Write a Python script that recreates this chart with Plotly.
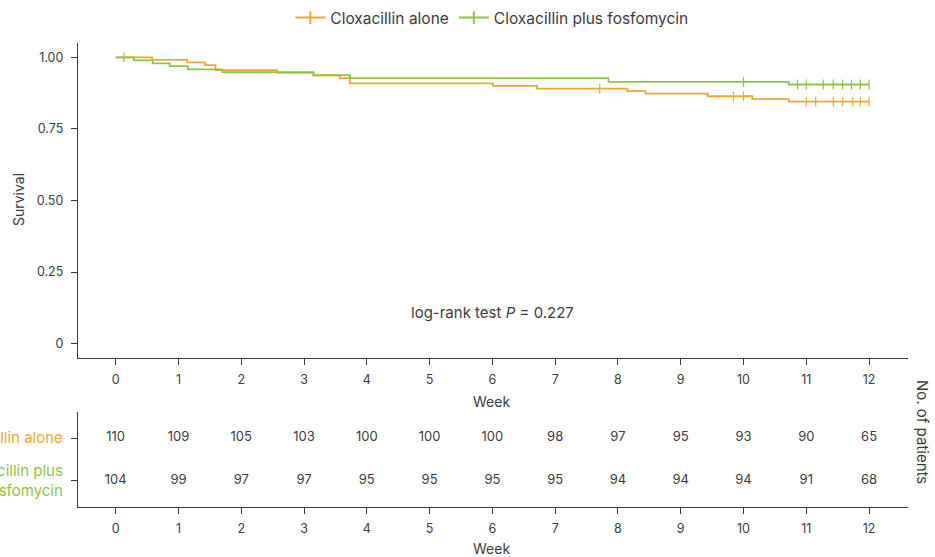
import plotly.graph_objects as go

# ---------------- data ----------------
weeks = list(range(0, 13))

alone_name = "Cloxacillin alone"
plus_name = "Cloxacillin plus fosfomycin"

# Kaplan-Meier steps (time in weeks, survival after step)
alone_t = [0, 0.58, 1.14, 1.42, 1.59, 2.57, 3.15, 3.57, 3.73, 6.01, 6.71, 8.15, 8.44, 9.43, 10.14, 10.72, 12.0]
alone_s = [1.0, 0.991, 0.982, 0.973, 0.955, 0.946, 0.936, 0.927, 0.909, 0.900, 0.891, 0.882, 0.873, 0.864, 0.854, 0.845, 0.845]
alone_cens = [7.71, 9.84, 10.0, 11.0, 11.15, 11.43, 11.58, 11.74, 11.86, 12.0]

plus_t = [0, 0.29, 0.59, 0.86, 1.15, 1.70, 3.15, 3.73, 7.85, 10.72, 12.0]
plus_s = [1.0, 0.989, 0.979, 0.969, 0.958, 0.948, 0.938, 0.927, 0.914, 0.905, 0.905]
plus_cens = [0.13, 10.0, 10.86, 11.0, 11.27, 11.43, 11.58, 11.72, 11.86, 12.0]

# number at risk
alone_risk = [110, 109, 105, 103, 100, 100, 100, 98, 97, 95, 93, 90, 65]
plus_risk = [104, 99, 97, 97, 95, 95, 95, 95, 94, 94, 94, 91, 68]

y_ticks = [0, 0.25, 0.5, 0.75, 1.0]
y_ticktext = ["0", "0.25", "0.50", "0.75", "1.00"]

ORANGE = "#F3A531"
GREEN = "#8DC641"
AX = "#3a3a3a"
TXT = "#3c3c3c"
FONT = "Inter"


def step_at(ts, ss, t):
    v = ss[0]
    for ti, si in zip(ts, ss):
        if ti <= t:
            v = si
    return v


fig = go.Figure()

for name, ts, ss, cens, col in [
    (alone_name, alone_t, alone_s, alone_cens, ORANGE),
    (plus_name, plus_t, plus_s, plus_cens, GREEN),
]:
    fig.add_trace(go.Scatter(x=ts, y=ss, mode="lines", line=dict(color=col, width=1.8, shape="hv"),
                             showlegend=False, xaxis="x", yaxis="y", hoverinfo="skip"))
    fig.add_trace(go.Scatter(x=cens, y=[step_at(ts, ss, c) for c in cens], mode="markers",
                             marker=dict(symbol="line-ns-open", size=7, color=col, line=dict(color=col, width=1.2)),
                             showlegend=False, xaxis="x", yaxis="y", hoverinfo="skip"))
    fig.add_trace(go.Scatter(x=[None], y=[None], mode="lines+markers", name=name,
                             line=dict(color=col, width=2),
                             marker=dict(symbol="line-ns-open", size=9, color=col, line=dict(color=col, width=2)),
                             xaxis="x", yaxis="y"))

# risk table
fig.add_trace(go.Scatter(x=weeks, y=[1] * len(weeks), mode="text", text=[str(v) for v in alone_risk],
                         textfont=dict(family=FONT, size=13, color=TXT), showlegend=False,
                         xaxis="x2", yaxis="y2", hoverinfo="skip"))
fig.add_trace(go.Scatter(x=weeks, y=[0] * len(weeks), mode="text", text=[str(v) for v in plus_risk],
                         textfont=dict(family=FONT, size=13, color=TXT), showlegend=False,
                         xaxis="x2", yaxis="y2", hoverinfo="skip"))

W, H = 935, 557
xdom = [78 / W, 908 / W]
axcommon = dict(showline=True, linecolor=AX, linewidth=1.3, ticks="outside", ticklen=6, tickwidth=1.3,
                tickcolor=AX, showgrid=False, zeroline=False, automargin=False,
                tickfont=dict(family=FONT, size=12.5, color=TXT))
axnofont = {k: v for k, v in axcommon.items() if k != "tickfont"}

row_labels = [
    f'<span style="color:{ORANGE}">Cloxacillin alone</span>',
    f'<span style="color:{GREEN}">Cloxacillin plus</span><br><span style="color:{GREEN}">fosfomycin</span>',
]

fig.update_layout(
    width=W, height=H,
    margin=dict(l=0, r=0, t=0, b=0, autoexpand=False),
    paper_bgcolor="white", plot_bgcolor="white",
    font=dict(family=FONT, color=TXT),
    xaxis=dict(domain=xdom, range=[-0.6, 12.62], anchor="y", tickvals=weeks, ticklabelstandoff=4, **axcommon),
    yaxis=dict(domain=[1 - 358 / H, 1 - 43 / H], range=[-0.05, 1.05], anchor="x",
               tickvals=y_ticks, ticktext=y_ticktext, ticklabelstandoff=5, **axcommon),
    xaxis2=dict(domain=xdom, range=[-0.6, 12.62], anchor="y2", tickvals=weeks, ticklabelstandoff=4, **axcommon),
    yaxis2=dict(domain=[1 - 507 / H, 1 - 412 / H], range=[-0.605, 1.605], anchor="x2",
                tickvals=[1, 0], ticktext=row_labels,
                ticklabelstandoff=5, **axnofont,
                tickfont=dict(family=FONT, size=15, color=GREEN)),
    legend=dict(orientation="h", x=0.526, xanchor="center", y=1 - 18 / H, yanchor="middle",
                font=dict(family=FONT, size=15.5, color=TXT), bgcolor="rgba(0,0,0,0)",
                itemwidth=30, tracegroupgap=0),
    showlegend=True,
)

annots = [
    dict(text="Week", x=(115 + 6 * 62.8) / W, y=1 - 401 / H),
    dict(text="Week", x=(115 + 6 * 62.8) / W, y=1 - 548 / H),
    dict(text="Survival", x=18 / W, y=1 - 200 / H, textangle=-90),
    dict(text="No. of patients", x=922 / W, y=1 - 432 / H, textangle=90, size=15),
    dict(text="log-rank test <i>P</i> = 0.227", x=493 / W, y=1 - 312 / H, size=15),
]
for a in annots:
    size = a.pop("size", 14)
    fig.add_annotation(xref="paper", yref="paper", showarrow=False, xanchor="center", yanchor="middle",
                       font=dict(family=FONT, size=size, color=TXT), **a)

fig.write_html("out.html")
